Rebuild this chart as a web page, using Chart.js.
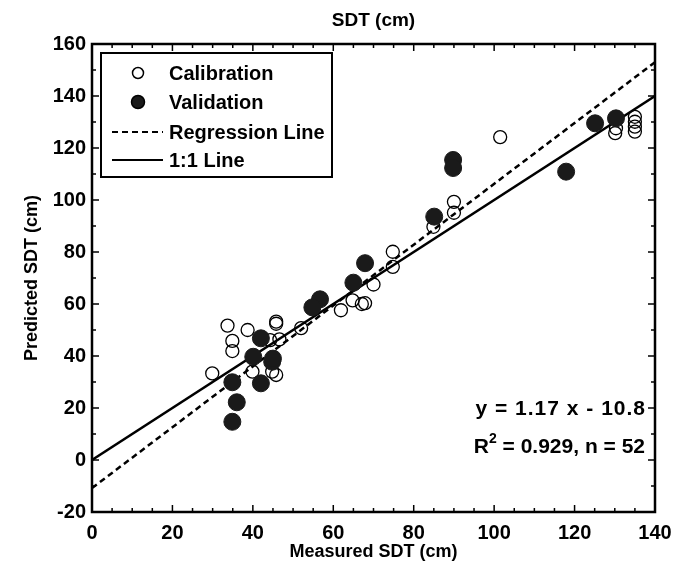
<!DOCTYPE html>
<html>
<head>
<meta charset="utf-8">
<script src="https://cdn.jsdelivr.net/npm/chart.js@4/dist/chart.umd.min.js"></script>
<style>
  html, body { margin: 0; padding: 0; background: #fff; }
  #wrap { width: 686px; height: 567px; }
</style>
</head>
<body>
<div id="wrap"><canvas id="sdt"></canvas></div>
<script>
// calibration points (open circles)
var calX = [70.0, 64.8, 61.9, 67.1, 67.9, 52.0, 45.8, 45.8, 33.7, 38.7, 34.9, 34.9, 46.6, 44.3, 29.9, 39.9, 44.8, 45.8,
            84.9, 90.0, 90.0, 74.8, 74.8, 101.5, 130.1, 130.3, 135.0, 135.0, 135.0, 135.0];
var calY = [67.5, 61.4, 57.6, 60.0, 60.3, 50.7, 53.2, 52.4, 51.7, 50.0, 45.8, 41.9, 46.4, 46.1, 33.3, 34.0, 34.0, 32.7,
            89.7, 95.1, 99.3, 80.1, 74.3, 124.2, 125.7, 127.6, 132.0, 130.1, 128.2, 126.3];
// validation points (filled circles)
var valX = [67.9, 65.0, 56.7, 54.8, 42.0, 40.1, 44.8, 45.0, 34.9, 42.0, 36.0, 34.9, 85.1, 89.8, 89.8, 125.1, 130.3, 117.9];
var valY = [75.7, 68.2, 61.8, 58.7, 46.8, 39.7, 37.8, 39.0, 29.9, 29.5, 22.2, 14.7, 93.6, 115.4, 112.3, 129.5, 131.4, 110.9];
// lines
var regLine = [{x: 0, y: -10.8}, {x: 140, y: 153.0}];
var oneLine = [{x: 0, y: 0}, {x: 140, y: 140}];
var xTicks = [0, 20, 40, 60, 80, 100, 120, 140];
var yTicks = [-20, 0, 20, 40, 60, 80, 100, 120, 140, 160];

function pts(xs, ys) {
    return xs.map(function (x, i) { return {x: x, y: ys[i]}; });
}

var FONT = "'Liberation Sans', Arial, sans-serif";

var framePlugin = {
    id: 'frame',
    afterDatasetsDraw: function (chart) {
        var ctx = chart.ctx;
        var a = chart.chartArea;
        var sx = chart.scales.x, sy = chart.scales.y;
        ctx.save();
        ctx.strokeStyle = '#000';
        // inward ticks
        ctx.lineWidth = 1.5;
        for (var v = 0; v <= 140; v += 5) {
            var px = sx.getPixelForValue(v);
            var len = (v % 20 === 0) ? 7 : 4;
            ctx.beginPath();
            ctx.moveTo(px, a.bottom); ctx.lineTo(px, a.bottom - len);
            ctx.moveTo(px, a.top); ctx.lineTo(px, a.top + len);
            ctx.stroke();
        }
        for (var w = -20; w <= 160; w += 10) {
            var py = sy.getPixelForValue(w);
            var l2 = (w % 20 === 0) ? 7 : 4;
            ctx.beginPath();
            ctx.moveTo(a.left, py); ctx.lineTo(a.left + l2, py);
            ctx.moveTo(a.right, py); ctx.lineTo(a.right - l2, py);
            ctx.stroke();
        }
        // frame
        ctx.lineWidth = 2.5;
        ctx.strokeRect(a.left, a.top, a.right - a.left, a.bottom - a.top);

        // title
        ctx.fillStyle = '#000';
        ctx.textAlign = 'center';
        ctx.textBaseline = 'middle';
        ctx.font = 'bold 19px ' + FONT;
        ctx.fillText('SDT (cm)', (a.left + a.right) / 2, 21);

        // legend box
        ctx.lineWidth = 2;
        ctx.fillStyle = '#fff';
        ctx.fillRect(101, 53, 231, 124);
        ctx.strokeRect(101, 53, 231, 124);
        var ds = chart.data.datasets;
        var rows = [73, 102, 132, 160];
        ctx.font = 'bold 20px ' + FONT;
        ctx.textAlign = 'left';
        ds.forEach(function (d, i) {
            var ry = rows[i];
            ctx.strokeStyle = '#000';
            if (d.type === 'line') {
                ctx.lineWidth = 2;
                ctx.setLineDash(d.borderDash || []);
                ctx.beginPath();
                ctx.moveTo(112, ry); ctx.lineTo(163, ry);
                ctx.stroke();
                ctx.setLineDash([]);
            } else {
                ctx.lineWidth = 1.5;
                ctx.beginPath();
                ctx.arc(138, ry, i === 0 ? 5.5 : 6.5, 0, Math.PI * 2);
                if (i === 1) { ctx.fillStyle = '#1a1a1a'; ctx.fill(); }
                ctx.stroke();
            }
            ctx.fillStyle = '#000';
            ctx.fillText(d.label, 169, ry + 1);
        });

        // equation text, right aligned
        var xr = 645;
        ctx.font = 'bold 21px ' + FONT;
        ctx.textAlign = 'right';
        ctx.letterSpacing = '1px';
        ctx.fillText('y = 1.17 x - 10.8', xr + 1, 409);
        ctx.letterSpacing = '0px';
        var rest = ' = 0.929, n = 52';
        var wRest = ctx.measureText(rest).width;
        ctx.fillText(rest, xr, 447);
        ctx.font = 'bold 14px ' + FONT;
        var wSup = ctx.measureText('2').width;
        ctx.fillText('2', xr - wRest, 439);
        ctx.font = 'bold 21px ' + FONT;
        ctx.fillText('R', xr - wRest - wSup, 447);
        ctx.restore();
    }
};

var chart = new Chart(document.getElementById('sdt'), {
    type: 'scatter',
    data: {
        datasets: [
            {
                label: 'Calibration',
                data: pts(calX, calY),
                pointRadius: 6.5,
                pointHoverRadius: 6.5,
                borderColor: '#000',
                borderWidth: 1.3,
                backgroundColor: 'rgba(0,0,0,0)',
                order: 1
            },
            {
                label: 'Validation',
                data: pts(valX, valY),
                pointRadius: 8.5,
                pointHoverRadius: 8.5,
                borderColor: '#1a1a1a',
                borderWidth: 1,
                backgroundColor: '#1a1a1a',
                order: 0
            },
            {
                type: 'line',
                label: 'Regression Line',
                data: regLine,
                borderColor: '#000',
                borderWidth: 2.5,
                borderDash: [6, 4],
                pointRadius: 0,
                fill: false,
                order: 2
            },
            {
                type: 'line',
                label: '1:1 Line',
                data: oneLine,
                borderColor: '#000',
                borderWidth: 2.5,
                pointRadius: 0,
                fill: false,
                order: 3
            }
        ]
    },
    options: {
        responsive: true,
        maintainAspectRatio: false,
        animation: false,
        layout: { padding: { top: 44, right: 31, left: 0, bottom: 0 } },
        plugins: {
            legend: { display: false },
            tooltip: { enabled: false }
        },
        scales: {
            x: {
                type: 'linear',
                min: 0,
                max: 140,
                afterFit: function (s) { s.height = 55; },
                afterBuildTicks: function (s) { s.ticks = xTicks.map(function (v) { return {value: v}; }); },
                grid: { display: false, drawTicks: false },
                border: { display: false },
                ticks: { color: '#000', padding: 9, font: { family: FONT, size: 20, weight: 'bold' } },
                title: {
                    display: true,
                    text: 'Measured SDT (cm)',
                    color: '#000',
                    padding: { top: 0, bottom: 4 },
                    font: { family: FONT, size: 18, weight: 'bold' }
                }
            },
            y: {
                type: 'linear',
                min: -20,
                max: 160,
                afterFit: function (s) { s.width = 92; },
                afterBuildTicks: function (s) { s.ticks = yTicks.map(function (v) { return {value: v}; }); },
                grid: { display: false, drawTicks: false },
                border: { display: false },
                ticks: { color: '#000', padding: 6, font: { family: FONT, size: 20, weight: 'bold' } },
                title: {
                    display: true,
                    text: 'Predicted SDT (cm)',
                    color: '#000',
                    padding: { top: 21, bottom: 0 },
                    font: { family: FONT, size: 18, weight: 'bold' }
                }
            }
        }
    },
    plugins: [framePlugin]
});
</script>
</body>
</html>
